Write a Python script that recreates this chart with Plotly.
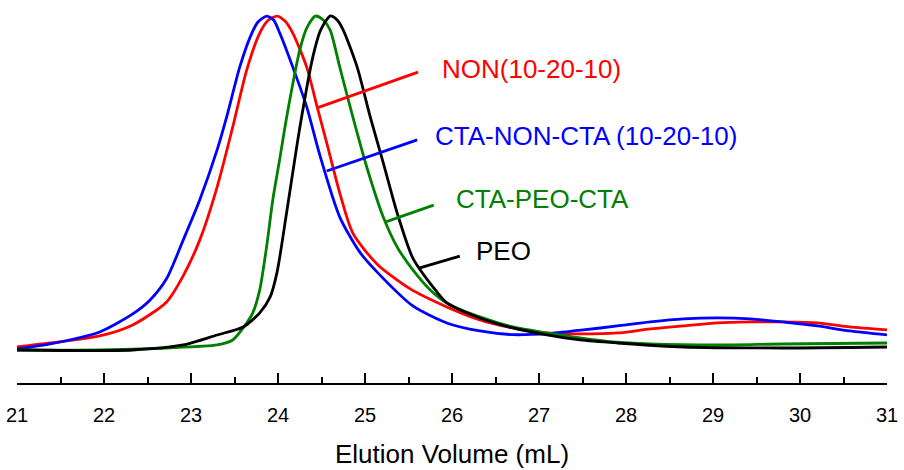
import plotly.graph_objects as go

# ---- data (elution volume in mL, normalised intensity) ----
blue_v = [21.00, 21.38, 21.95, 22.33, 22.53, 22.72, 22.91, 23.10, 23.30, 23.41, 23.56, 23.68, 23.77, 23.87, 23.95,
          24.02, 24.17, 24.33, 24.48, 24.71, 24.94, 25.17, 25.55, 25.94, 26.32, 26.70, 27.13, 27.51, 27.90,
          28.28, 28.66, 29.05, 29.43, 29.80, 30.20, 30.57, 31.00]
blue_i = [0.003, 0.018, 0.054, 0.108, 0.150, 0.214, 0.329, 0.449, 0.599, 0.698, 0.847, 0.937, 0.982, 1.000, 0.988,
          0.949, 0.847, 0.728, 0.584, 0.398, 0.293, 0.225, 0.132, 0.081, 0.057, 0.046, 0.050, 0.060, 0.072,
          0.084, 0.093, 0.096, 0.093, 0.084, 0.072, 0.057, 0.045]

red_v = [21.00, 21.38, 21.95, 22.33, 22.72, 22.91, 23.10, 23.30, 23.48, 23.64, 23.79, 23.89, 23.99, 24.08, 24.17,
         24.33, 24.45, 24.56, 24.71, 24.86, 25.14, 25.52, 25.94, 26.32, 26.70, 27.09, 27.47, 27.90, 28.28,
         28.66, 29.05, 29.43, 29.80, 30.20, 30.57, 31.00]
red_i = [0.009, 0.021, 0.042, 0.075, 0.144, 0.222, 0.329, 0.488, 0.668, 0.838, 0.949, 0.988, 1.000, 0.985, 0.949,
         0.847, 0.728, 0.620, 0.470, 0.350, 0.257, 0.183, 0.129, 0.090, 0.066, 0.051, 0.048, 0.051, 0.063,
         0.072, 0.081, 0.084, 0.084, 0.081, 0.069, 0.060]

green_v = [21.00, 21.95, 22.72, 23.30, 23.48, 23.64, 23.71, 23.79, 23.87, 23.94, 24.02, 24.10, 24.25, 24.33,
           24.43, 24.52, 24.60, 24.71, 24.86, 25.02, 25.21, 25.37, 25.55, 25.75, 25.94, 26.32, 26.70, 27.09,
           27.47, 27.85, 28.28, 29.05, 29.80, 31.00]
green_i = [0.000, 0.000, 0.006, 0.015, 0.030, 0.081, 0.111, 0.180, 0.311, 0.449, 0.572, 0.698, 0.898, 0.964,
           1.000, 0.988, 0.958, 0.847, 0.698, 0.548, 0.398, 0.308, 0.240, 0.180, 0.141, 0.099, 0.069, 0.051,
           0.036, 0.024, 0.018, 0.015, 0.018, 0.021]

black_v = [21.00, 22.33, 22.91, 23.30, 23.60, 23.79, 23.91, 23.99, 24.10, 24.25, 24.40, 24.49, 24.60, 24.68,
           24.75, 24.91, 25.06, 25.21, 25.37, 25.55, 25.78, 25.94, 26.32, 26.70, 27.09, 27.47, 27.90, 28.66,
           29.80, 31.00]
black_i = [0.000, 0.000, 0.015, 0.045, 0.069, 0.111, 0.159, 0.234, 0.413, 0.665, 0.877, 0.958, 1.000, 0.988,
           0.958, 0.847, 0.698, 0.560, 0.410, 0.275, 0.189, 0.141, 0.096, 0.066, 0.045, 0.030, 0.021, 0.009,
           0.006, 0.009]

# series labels and leader lines (curve point -> label)
labels = ["NON(10-20-10)", "CTA-NON-CTA (10-20-10)", "CTA-PEO-CTA", "PEO"]
colors = ["#FF0000", "#0000FF", "#008000", "#000000"]
leader_v = [[24.45, 25.61], [24.56, 25.60], [25.23, 25.79], [25.63, 26.09]]
leader_i = [[0.725, 0.832], [0.536, 0.629], [0.383, 0.434], [0.246, 0.281]]
label_v = [25.86, 25.78, 26.02, 26.25]
label_i = [0.841, 0.641, 0.452, 0.296]

x_ticks = [21, 22, 23, 24, 25, 26, 27, 28, 29, 30, 31]

FONT = "Liberation Sans, Arial, sans-serif"

fig = go.Figure()
series = [(red_v, red_i), (blue_v, blue_i), (green_v, green_i), (black_v, black_i)]
for (xv, yv), c in zip(series, colors):
    fig.add_trace(go.Scatter(x=xv, y=yv, mode="lines",
                             line=dict(color=c, width=2.8, shape="spline", smoothing=0.7),
                             hoverinfo="skip", showlegend=False))

for lv, li, c in zip(leader_v, leader_i, colors):
    fig.add_trace(go.Scatter(x=lv, y=li, mode="lines", line=dict(color=c, width=2.8),
                             hoverinfo="skip", showlegend=False))

for t, xv, yv, c in zip(labels, label_v, label_i, colors):
    fig.add_annotation(x=xv, y=yv, xref="x", yref="y", text=t, showarrow=False,
                       xanchor="left", yanchor="middle", font=dict(family=FONT, size=26, color=c))

fig.update_layout(
    width=904, height=470,
    margin=dict(l=17, r=17, t=0, b=87),
    paper_bgcolor="white", plot_bgcolor="white",
    font=dict(family=FONT, color="black"),
    xaxis=dict(
        range=[21, 31], tickvals=x_ticks, ticktext=[str(v) for v in x_ticks],
        showline=True, linecolor="black", linewidth=2,
        ticks="inside", ticklen=10, tickwidth=2, tickcolor="black",
        minor=dict(dtick=0.5, ticks="inside", ticklen=6, tickwidth=2, tickcolor="black", showgrid=False),
        showgrid=False, zeroline=False,
        tickfont=dict(family=FONT, size=20, color="black"),
        ticklabelstandoff=13,
        title=dict(text="Elution Volume (mL)", font=dict(family=FONT, size=26, color="black"), standoff=20),
    ),
    yaxis=dict(range=[-0.0988, 1.048], visible=False, showgrid=False, zeroline=False),
)

fig.write_html("out.html")
